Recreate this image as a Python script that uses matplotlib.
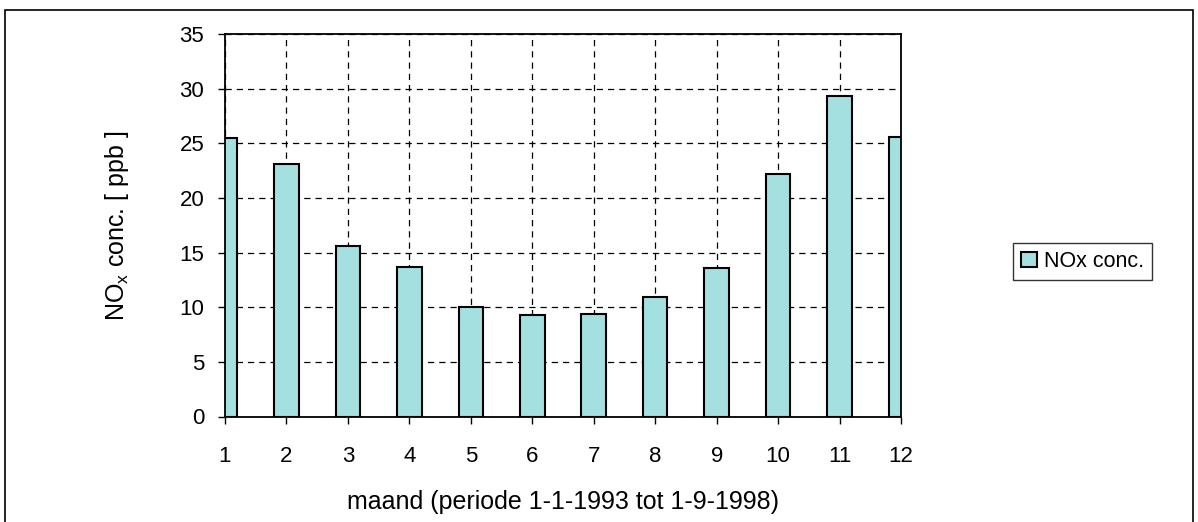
import matplotlib.pyplot as plt
from matplotlib.patches import Rectangle

plt.rcParams['font.family'] = ['Liberation Sans', 'DejaVu Sans']

# data
maanden = [1, 2, 3, 4, 5, 6, 7, 8, 9, 10, 11, 12]
nox = [25.5, 23.1, 15.6, 13.7, 10.0, 9.3, 9.4, 10.9, 13.6, 22.2, 29.3, 25.6]
y_ticks = [0, 5, 10, 15, 20, 25, 30, 35]

W, H = 1198, 522
fig = plt.figure(figsize=(W / 100, H / 100), dpi=100)

# kader rond de hele grafiek
fig.patches.append(Rectangle((5 / W, -0.01), 1188 / W, 1 - 10 / H + 0.01,
                             transform=fig.transFigure, fill=False,
                             edgecolor='black', linewidth=1.2))

ax = fig.add_axes([225 / W, 1 - 416.5 / H, (901 - 225) / W, (416.5 - 34) / H])

ax.bar(maanden, nox, width=0.4, color='#a4e0e0', edgecolor='black',
       linewidth=1.5, label='NOx conc.', zorder=3)

ax.set_xlim(1, 12)
ax.set_ylim(0, 35)
ax.set_xticks(maanden)
ax.set_yticks(y_ticks)
ax.tick_params(axis='both', direction='out', length=5, width=1,
               labelsize=16, color='black')
ax.tick_params(axis='x', pad=16)
ax.tick_params(axis='y', pad=10)

ax.grid(True, color='black', linestyle=(0, (5, 4)), linewidth=0.9, zorder=1)
for s in ax.spines.values():
    s.set_linewidth(1.3)
    s.set_zorder(4)

ax.set_ylabel('NO$_\\mathregular{x}$ conc. [ ppb ]', fontsize=18, labelpad=35)
ax.set_xlabel('maand (periode 1-1-1993 tot 1-9-1998)', fontsize=18, labelpad=17)

leg = ax.legend(loc='center left', bbox_to_anchor=(1013 / W, 1 - 261.5 / H),
                bbox_transform=fig.transFigure, fontsize=15.5, frameon=True,
                fancybox=False, borderpad=0.35, handlelength=0.75,
                handleheight=0.75, handletextpad=0.35, borderaxespad=0)
leg.get_frame().set_edgecolor('black')
leg.get_frame().set_linewidth(1)

fig.savefig('out.png', dpi=100)
